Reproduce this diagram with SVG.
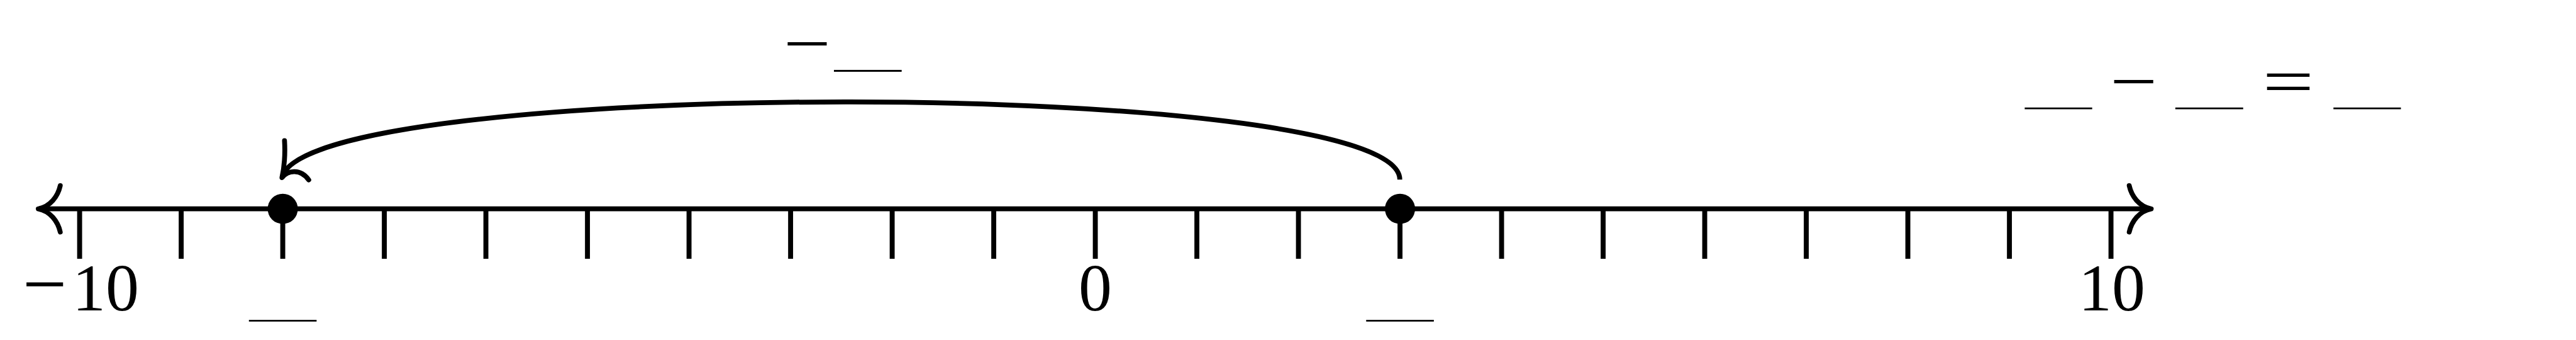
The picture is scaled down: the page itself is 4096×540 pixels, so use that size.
<svg xmlns="http://www.w3.org/2000/svg" width="4096" height="540" viewBox="0 0 4096 540">
  <style>
    .ln { stroke: #000; stroke-width: 7.75; fill: none; }
    .tip { stroke: #000; stroke-width: 7.75; fill: none; stroke-linecap: round; stroke-linejoin: round; }
    .tick { stroke: #000; stroke-width: 7.9; }
    .blank { stroke: #000; stroke-width: 2.8; }
    .dot { fill: #000; }
    .lbl { font-family: "Liberation Serif", "Times New Roman", serif; font-size: 106px; fill: #000; }
  </style>
  <rect width="4096" height="540" fill="#fff"/>

  <g id="axis">
    <line class="ln" x1="62" y1="331.7" x2="3419" y2="331.7"/>
    <path class="tip" d="M95.8,294.9 C92,312 80,328 60.8,331.7 C80,335.4 92,351.4 95.8,368.5"/>
    <path class="tip" d="M3385.6,294.9 C3389.4,312 3401.4,328 3420.6,331.7 C3401.4,335.4 3389.4,351.4 3385.6,368.5"/>
  </g>

  <g id="ticks">
    <line class="tick" x1="126.6" y1="331.7" x2="126.6" y2="411"/>
    <line class="tick" x1="288.1" y1="331.7" x2="288.1" y2="411"/>
    <line class="tick" x1="449.6" y1="331.7" x2="449.6" y2="411"/>
    <line class="tick" x1="611.1" y1="331.7" x2="611.1" y2="411"/>
    <line class="tick" x1="772.6" y1="331.7" x2="772.6" y2="411"/>
    <line class="tick" x1="934.1" y1="331.7" x2="934.1" y2="411"/>
    <line class="tick" x1="1095.6" y1="331.7" x2="1095.6" y2="411"/>
    <line class="tick" x1="1257.1" y1="331.7" x2="1257.1" y2="411"/>
    <line class="tick" x1="1418.6" y1="331.7" x2="1418.6" y2="411"/>
    <line class="tick" x1="1580.1" y1="331.7" x2="1580.1" y2="411"/>
    <line class="tick" x1="1741.6" y1="331.7" x2="1741.6" y2="411"/>
    <line class="tick" x1="1903.1" y1="331.7" x2="1903.1" y2="411"/>
    <line class="tick" x1="2064.6" y1="331.7" x2="2064.6" y2="411"/>
    <line class="tick" x1="2226.1" y1="331.7" x2="2226.1" y2="411"/>
    <line class="tick" x1="2387.6" y1="331.7" x2="2387.6" y2="411"/>
    <line class="tick" x1="2549.1" y1="331.7" x2="2549.1" y2="411"/>
    <line class="tick" x1="2710.6" y1="331.7" x2="2710.6" y2="411"/>
    <line class="tick" x1="2872.1" y1="331.7" x2="2872.1" y2="411"/>
    <line class="tick" x1="3033.6" y1="331.7" x2="3033.6" y2="411"/>
    <line class="tick" x1="3195.1" y1="331.7" x2="3195.1" y2="411"/>
    <line class="tick" x1="3356.6" y1="331.7" x2="3356.6" y2="411"/>
  </g>

  <g id="tick-labels">
    <text class="lbl" x="36" y="493.4"><tspan font-size="125">−</tspan><tspan x="115">10</tspan></text>
    <text class="lbl" x="1741.6" y="493.4" text-anchor="middle">0</text>
    <text class="lbl" x="3358" y="493.4" text-anchor="middle">10</text>
  </g>

  <g id="point-a">
    <circle class="dot" cx="449.6" cy="331.7" r="24"/>
    <line class="blank" x1="395.8" y1="509.4" x2="503.4" y2="509.4"/>
  </g>

  <g id="point-b">
    <circle class="dot" cx="2226.1" cy="331.7" r="24"/>
    <line class="blank" x1="2172.3" y1="509.3" x2="2279.9" y2="509.3"/>
  </g>

  <g id="connectors">
    <path class="ln" d="M2225.8,285.2 C2225.8,121.3 485,121.3 448.4,282.1"/>
    <path class="tip" d="M452.4,223.4 C454,250 451,270 448.4,282.1 C458,270 478,268 490.9,285.7"/>
  </g>

  <g id="jump-label">
    <text class="lbl" transform="translate(1283.7,105) scale(1.26,1)" text-anchor="middle">−</text>
    <line class="blank" x1="1326" y1="112.5" x2="1433.7" y2="112.5"/>
  </g>

  <g id="equation">
    <line class="blank" x1="3219.4" y1="172.1" x2="3326.7" y2="172.1"/>
    <text class="lbl" transform="translate(3393,165) scale(1.26,1)" text-anchor="middle">−</text>
    <line class="blank" x1="3458.9" y1="172.1" x2="3566.8" y2="172.1"/>
    <text class="lbl" transform="translate(3638.4,165) scale(1.37,1)" text-anchor="middle">=</text>
    <line class="blank" x1="3710.3" y1="172.1" x2="3817.6" y2="172.1"/>
  </g>
</svg>
